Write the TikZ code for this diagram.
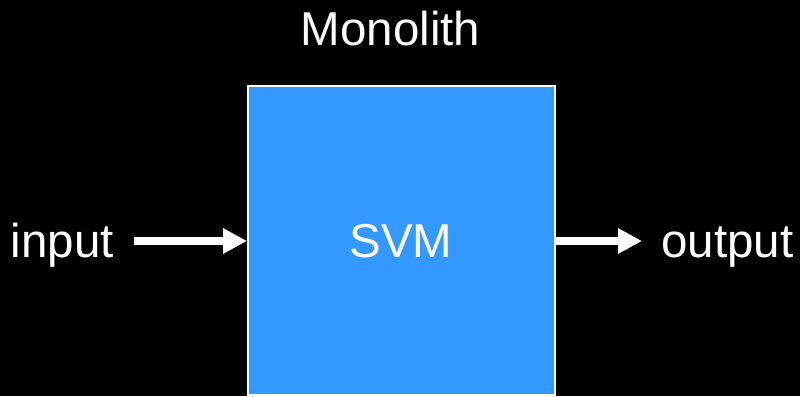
\documentclass[tikz,border=0pt]{standalone}
\usepackage{fontspec}
\setmainfont{Liberation Sans}
\usetikzlibrary{arrows.meta}
\definecolor{boxblue}{HTML}{3399FF}
\begin{document}
\begin{tikzpicture}[x=1pt,y=-1pt,
  lbl/.style={text=white,font=\fontsize{47.5}{52}\selectfont,inner sep=0pt,anchor=base},
  flow/.style={draw=white,line width=8pt,-{Triangle[length=24pt,width=24pt]}}]
\fill[black] (0,0) rectangle (800,396);
\useasboundingbox (0,0) rectangle (800,396);
\node[draw=white,line width=2pt,fill=boxblue,minimum width=307pt,minimum height=309pt,inner sep=0pt] (box) at (401.5,240.5) {};
\node[lbl] (title) at (390.5,46) {Monolith};
\node[lbl] (svm) at (401,257) {SVM};
\node[lbl] (in) at (62.5,257) {input};
\node[lbl] (out) at (727.5,257) {output};
\coordinate (inTail) at (134,241);
\coordinate (outHead) at (642,241);
\draw[flow] (inTail) -- (box.west |- inTail);
\draw[flow] (box.east |- outHead) -- (outHead);
\end{tikzpicture}
\end{document}
